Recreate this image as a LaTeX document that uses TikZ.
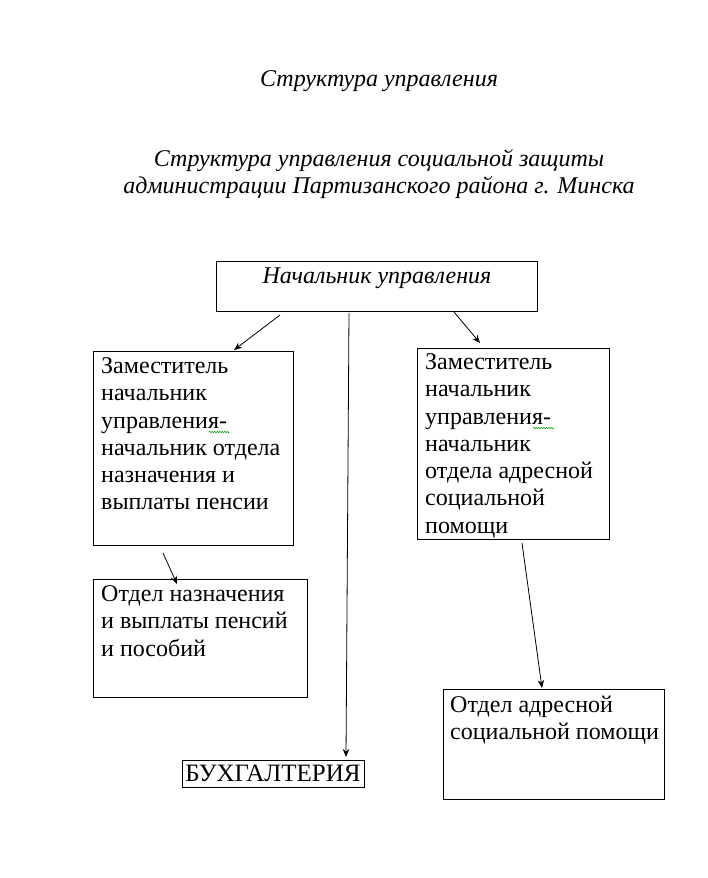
\documentclass[tikz,border=0pt]{standalone}
\usepackage{fontspec}
\setmainfont{Liberation Serif}
\usetikzlibrary{arrows.meta,decorations.pathmorphing}
\begin{document}
\begin{tikzpicture}[x=1pt,y=-1pt,
  box/.style={draw,line width=0.9pt,inner sep=0pt,anchor=north west},
  body/.style={inner sep=0pt,anchor=north west,align=left,font=\fontsize{24}{27.3}\selectfont},
  ttl/.style={inner sep=0pt,anchor=base,align=center,font=\fontsize{24}{27}\selectfont\itshape},
  arr/.style={-{Stealth[length=8pt,width=6.5pt]},line width=0.8pt},
  spell/.style={draw=green!60!black,line width=0.5pt,decorate,decoration={snake,amplitude=0.7pt,segment length=2.5pt}}]
\useasboundingbox[fill=white] (0,0) rectangle (707,878);
% titles
\node[ttl] (t1) at (379,86) {Структура управления};
\node[ttl,anchor=north] (t2) at (379,147) {\strut Структура управления социальной защиты\\администрации Партизанского района г. Минска};
% boxes
\node[box,minimum width=321pt,minimum height=50pt] (boss) at (216,261) {};
\node[box,minimum width=200pt,minimum height=194pt] (dep1) at (93,351) {};
\node[box,minimum width=192pt,minimum height=191pt] (dep2) at (417,348) {};
\node[box,minimum width=214pt,minimum height=118pt] (otd1) at (93,579) {};
\node[box,minimum width=182pt,minimum height=27pt] (buh) at (182,760) {};
\node[box,minimum width=221pt,minimum height=110pt] (otd2) at (443,689) {};
% texts
\node[ttl] (bosst) at (377,283) {Начальник управления};
\node[body] (dep1t) at (101,354.1) {\strut Заместитель\\начальник\\управления-\\начальник отдела\\назначения и\\выплаты пенсии};
\node[body] (dep2t) at (425,350.1) {\strut Заместитель\\начальник\\управления-\\начальник\\отдела адресной\\социальной\\помощи};
\node[body] (otd1t) at (101,582.1) {\strut Отдел назначения\\и выплаты пенсий\\и пособий};
\node[body] (otd2t) at (450,693.1) {\strut Отдел адресной\\социальной помощи};
\node[body,anchor=base,font=\fontsize{25}{27}\selectfont] (buht) at (273,781) {БУХГАЛТЕРИЯ};
% spell-check marks
\draw[spell] (209,432) -- (230,432);
\draw[spell] (533,428) -- (554,428);
% connector end points
\coordinate (a1s) at (280,315); \coordinate (a1e) at (234,350);
\coordinate (a2s) at (349,313); \coordinate (a2e) at (346,757);
\coordinate (a3s) at (454,312); \coordinate (a3e) at (480,343);
\coordinate (a4s) at (163,553); \coordinate (a4e) at (177,584);
\coordinate (a5s) at (522,543); \coordinate (a5e) at (542,688);
\draw[arr] (a1s) -- (a1e);
\draw[arr] (a2s) -- (a2e);
\draw[arr] (a3s) -- (a3e);
\draw[arr] (a4s) -- (a4e);
\draw[arr] (a5s) -- (a5e);
\end{tikzpicture}
\end{document}
